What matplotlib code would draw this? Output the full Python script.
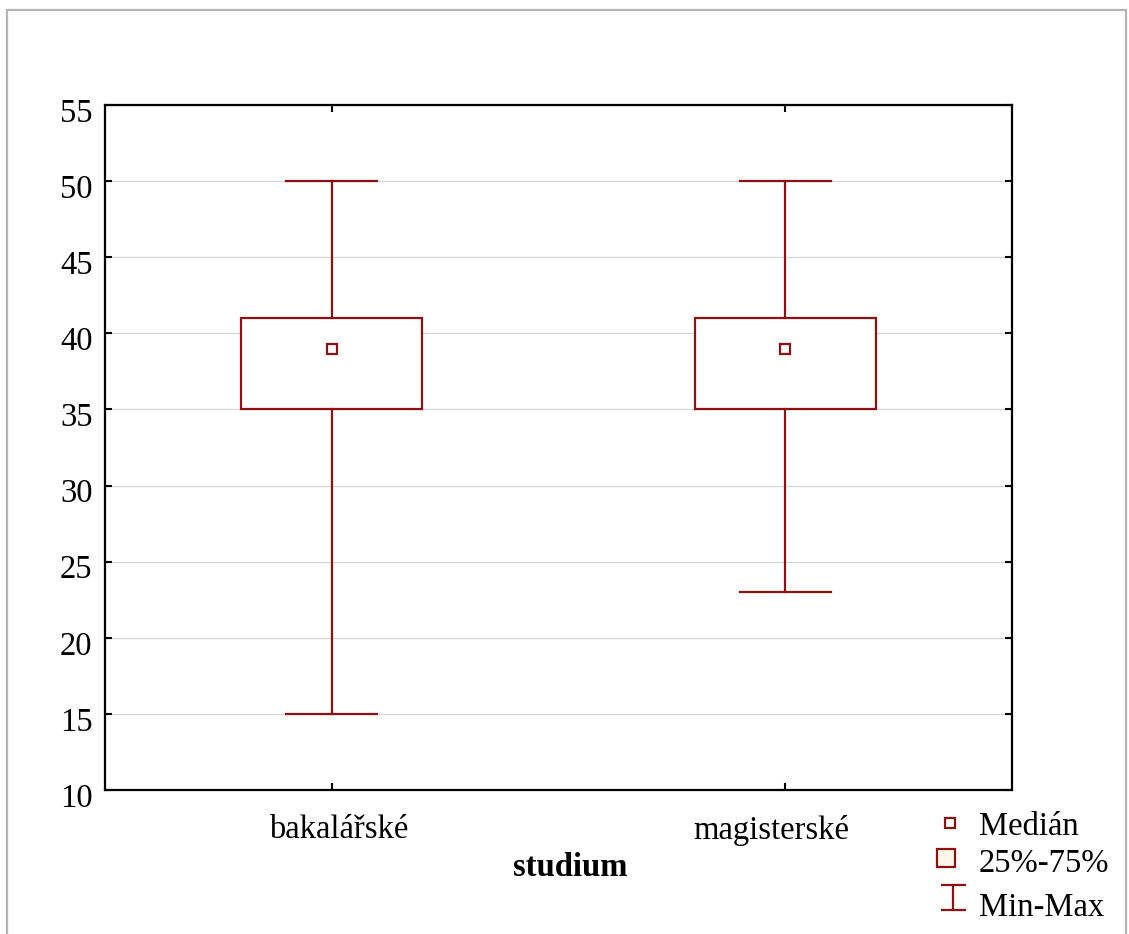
import numpy as np
import matplotlib.pyplot as plt
import matplotlib.transforms as mtransforms
from matplotlib.lines import Line2D
from matplotlib.patches import Rectangle
from matplotlib.path import Path

# souhrnné statistiky podle typu studia
skupiny = ["bakalářské", "magisterské"]
minima = [15, 23]
q25 = [35, 35]
mediany = [39, 39]
q75 = [41, 41]
maxima = [50, 50]

cervena = '#8b1212'
plt.rcParams['font.family'] = ['Liberation Serif', 'DejaVu Serif']

fig = plt.figure(figsize=(11.29, 9.34), dpi=100)
ax = fig.add_axes([0.093, 0.1542, 0.8034, 0.7334])

pozice = np.arange(1, len(skupiny) + 1)
sirka = 0.4
cap = 0.2
for x, lo, a, m, b, hi in zip(pozice, minima, q25, mediany, q75, maxima):
    ax.add_patch(Rectangle((x - sirka / 2, a), sirka, b - a, facecolor='white',
                           edgecolor=cervena, lw=1.6, zorder=3))
    ax.plot([x, x], [b, hi], color=cervena, lw=1.6, zorder=3)
    ax.plot([x, x], [lo, a], color=cervena, lw=1.6, zorder=3)
    ax.plot([x - cap / 2, x + cap / 2], [hi, hi], color=cervena, lw=1.6, zorder=3)
    ax.plot([x - cap / 2, x + cap / 2], [lo, lo], color=cervena, lw=1.6, zorder=3)
    ax.plot(x, m, marker='s', ms=6.5, mfc='white', mec=cervena, mew=1.6, zorder=4)

ax.set_xlim(0.5, 2.5)
ax.set_ylim(10, 55)
ax.set_yticks(np.arange(10, 56, 5))
ax.set_xticks(pozice)
ax.set_xticklabels(skupiny)
ax.yaxis.grid(True, color='#d9d9d9', lw=1)
ax.set_axisbelow(True)
ax.tick_params(direction='in', length=5, width=1.5, labelsize=23.5,
               top=True, right=True, pad=9)
ax.tick_params(axis='x', pad=18)
for s in ax.spines.values():
    s.set_linewidth(1.6)

# drobné posuny popisků
for lab in ax.get_yticklabels():
    lab.set_transform(lab.get_transform() +
                      mtransforms.ScaledTranslation(0, -5 / 100, fig.dpi_scale_trans))
for lab, dx in zip(ax.get_xticklabels(), [7, -14]):
    lab.set_transform(lab.get_transform() +
                      mtransforms.ScaledTranslation(dx / 100, 0, fig.dpi_scale_trans))

fig.text(570 / 1129, 1 - 867 / 934, 'studium', fontsize=23.5, fontweight='bold',
         ha='center', va='center')

# šedý rámeček kolem celého grafu
fig.add_artist(Rectangle((7 / 1129, -0.05), 1119 / 1129, 1 - 10 / 934 + 0.05,
                         transform=fig.transFigure, fill=False,
                         edgecolor='#b4b4b4', lw=1.6))

# legenda
W, H = 1129, 934
ibeam = Path([(-1, 1), (1, 1), (0, 1), (0, -1), (-1, -1), (1, -1)],
             [Path.MOVETO, Path.LINETO, Path.MOVETO, Path.LINETO,
              Path.MOVETO, Path.LINETO])
polozky = [
    ('Medián', 827, 950, 823, dict(marker='s', ms=7, mfc='white', mec=cervena, mew=1.6)),
    ('25%-75%', 864, 946, 858, dict(marker='s', ms=13, mfc='#fff8ea', mec=cervena, mew=1.6)),
    ('Min-Max', 908, 953, 897, dict(marker=ibeam, ms=18, mec=cervena, mew=1.6)),
]
for text, y, xm, ym, styl in polozky:
    fig.add_artist(Line2D([xm / W], [1 - ym / H], transform=fig.transFigure,
                          linestyle='none', **styl))
    fig.text(979 / W, 1 - y / H, text, fontsize=23.5, va='center', ha='left')

fig.savefig('out.png', dpi=100)
